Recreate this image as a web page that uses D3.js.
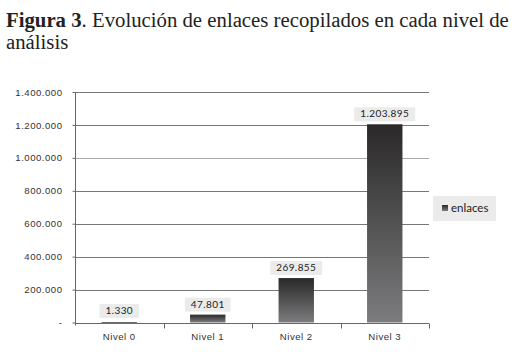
<!DOCTYPE html>
<html><head><meta charset="utf-8">
<script src="https://cdn.jsdelivr.net/npm/d3@7"></script>
<style>body{margin:0;background:#fff}svg{display:block}</style>
</head><body><svg id="c" width="517" height="363"></svg>
<script>
const categories = ["Nivel 0", "Nivel 1", "Nivel 2", "Nivel 3"];
const enlaces = [1330, 47801, 269855, 1203895];
const yTicks = [0, 200000, 400000, 600000, 800000, 1000000, 1200000, 1400000];
const seriesName = "enlaces";

(function () {
const svg = d3.select("#c");
const fmt = v => v === 0 ? "-" : d3.format(",")(v).replace(/,/g, ".");

// Title
const t1 = svg.append("text").attr("x", 6).attr("y", 27)
  .style("font-family", "Liberation Serif, serif").style("font-size", "20px").attr("fill", "#222");
t1.append("tspan").style("font-weight", "bold").text("Figura 3");
t1.append("tspan").text(". Evolución de enlaces recopilados en cada nivel de");
const w1 = t1.node().getComputedTextLength();
const fs = 20 * 503 / w1;
t1.style("font-size", fs + "px");
svg.append("text").attr("x", 6).attr("y", 49)
  .style("font-family", "Liberation Serif, serif").style("font-size", fs + "px").attr("fill", "#222")
  .text("análisis");

const pLeft = 75, pRight = 429, pTop = 92, pBottom = 322.5;
const x = d3.scaleBand().domain(categories).range([pLeft, pRight]).paddingInner(0.6).paddingOuter(0.3);
const xb = d3.scaleBand().domain(categories).range([pLeft, pRight]);
const y = d3.scaleLinear().domain([0, 1400000]).range([pBottom, pTop]);

// gradient
const defs = svg.append("defs");
const g = defs.append("linearGradient").attr("id", "bg").attr("x1", 0).attr("y1", 0).attr("x2", 0).attr("y2", 1);
g.append("stop").attr("offset", "0%").attr("stop-color", "#2a2828");
g.append("stop").attr("offset", "100%").attr("stop-color", "#7c7c7e");

// gridlines
svg.append("g").selectAll("line").data(yTicks.filter(d => d > 0)).join("line")
  .attr("x1", pLeft).attr("x2", pRight)
  .attr("y1", d => Math.round(y(d)) + 0.5).attr("y2", d => Math.round(y(d)) + 0.5)
  .attr("stroke", d => d === 1000000 ? "#a8a8a8" : "#777").attr("stroke-width", 1);

const axFont = sel => sel.style("font-family", "Liberation Sans, Arial, sans-serif")
  .style("font-size", "9.6px").style("letter-spacing", "0.5px").attr("fill", "#333");

// y axis
const ya = svg.append("g").attr("transform", `translate(${pLeft + 0.5},0)`)
  .call(d3.axisLeft(y).tickValues(yTicks).tickFormat(fmt).tickSize(3).tickPadding(10));
ya.select(".domain").attr("stroke", "#666").attr("d", `M0,${pTop}V${pBottom + 3}`);
ya.selectAll(".tick line").attr("stroke", "#666");
axFont(ya.selectAll(".tick text"));

// x axis
const xa = svg.append("g").attr("transform", `translate(0,${Math.round(pBottom) + 0.5})`)
  .call(d3.axisBottom(xb).tickSize(0).tickPadding(10));
xa.select(".domain").attr("stroke", "#666").attr("d", `M${pLeft},0H${pRight}`);
axFont(xa.selectAll(".tick text"));
xa.selectAll(".bnd").data(categories).join("line").attr("class", "bnd")
  .attr("x1", d => Math.round(xb(d) + xb.bandwidth()) + 0.5).attr("x2", d => Math.round(xb(d) + xb.bandwidth()) + 0.5)
  .attr("y1", 0).attr("y2", 5).attr("stroke", "#666");

// bars
svg.append("g").selectAll("rect").data(enlaces).join("rect")
  .attr("x", (d, i) => x(categories[i]))
  .attr("width", x.bandwidth())
  .attr("y", d => y(d))
  .attr("height", d => Math.max(1.5, pBottom - y(d)))
  .attr("fill", "url(#bg)");

// data labels
const lab = svg.append("g").selectAll("g").data(enlaces).join("g");
lab.each(function (d, i) {
  const gg = d3.select(this);
  const cx = x(categories[i]) + x.bandwidth() / 2;
  const yTop = Math.min(y(d), pBottom - 1.5);
  const txt = gg.append("text").attr("x", cx).attr("y", yTop - 7).attr("text-anchor", "middle")
    .style("font-family", "Lato, sans-serif").style("font-size", "10px").attr("fill", "#222")
    .style("letter-spacing", "0.4px").text(fmt(d));
  const w = txt.node().getComputedTextLength();
  gg.insert("rect", "text").attr("x", cx - w / 2 - 6).attr("y", yTop - 17).attr("width", w + 12).attr("height", 14)
    .attr("fill", "#ebebeb");
});

// legend
const lg = svg.append("g");
lg.append("rect").attr("x", 433).attr("y", 196).attr("width", 63).attr("height", 25).attr("fill", "#ebebeb");
lg.append("rect").attr("x", 442).attr("y", 205).attr("width", 6).attr("height", 6).attr("fill", "url(#bg)");
lg.append("text").attr("x", 451).attr("y", 212).style("font-family", "Lato, sans-serif")
  .style("font-size", "11.5px").attr("fill", "#222").text(seriesName);
})();
</script></body></html>
